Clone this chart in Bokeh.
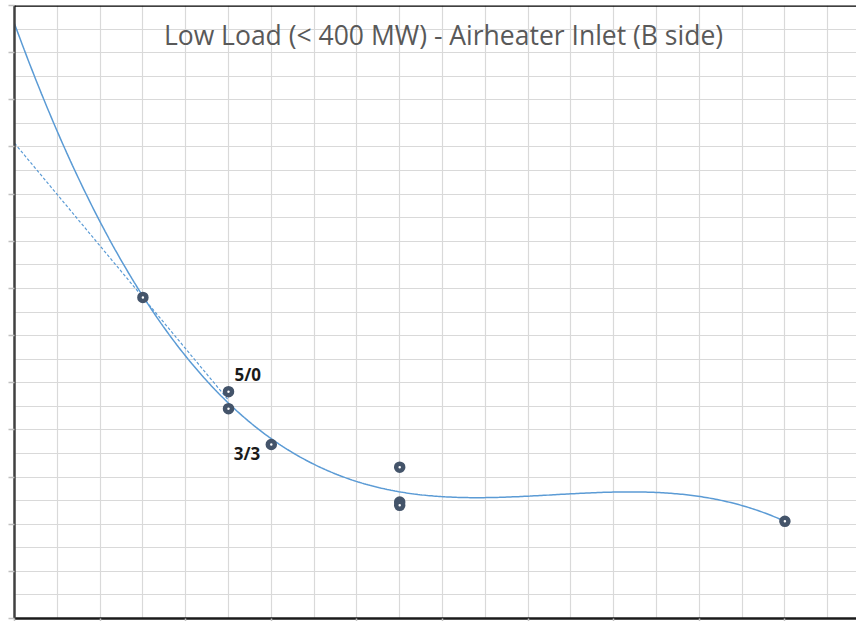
import numpy as np
from bokeh.plotting import figure
from bokeh.models import Range1d, FixedTicker, Label, Span, ColumnDataSource
from bokeh.embed import file_html
from bokeh.resources import INLINE

# Measured points (x in load steps, y in reading units)
load = [3.0, 5.0, 5.0, 6.0, 9.0, 9.0, 9.0, 18.0]
reading = [6.81, 4.81, 4.45, 3.69, 3.21, 2.47, 2.40, 2.06]

# Points used for the straight-line trend
linear_load = [3.0, 5.0, 5.0]
linear_reading = [6.81, 4.81, 4.45]

# Annotated points: (label, index into load/reading)
point_labels = [("5/0", 1), ("3/3", 3)]

x_ticks_major = list(range(0, 20, 2))
x_grid = list(range(0, 20))
y_ticks_major = list(range(0, 14))
y_grid = [i * 0.5 for i in range(0, 27)]

title_text = "Low Load (< 400 MW) - Airheater Inlet (B side)"

W, H = 856, 621
p = figure(width=W, height=H, output_backend="svg", toolbar_location=None,
           x_range=Range1d(0, (W - 14) / 42.8), y_range=Range1d(0, 13),
           min_border_left=14, min_border_right=0, min_border_top=5,
           min_border_bottom=3, background_fill_color="white",
           border_fill_color="white", outline_line_color=None)

# axes: tick marks only, tick labels left blank
for ax, ticks in ((p.xaxis[0], x_ticks_major), (p.yaxis[0], y_ticks_major)):
    ax.ticker = FixedTicker(ticks=ticks)
    ax.major_label_overrides = {t: "" for t in ticks}
    ax.major_label_text_font_size = "1px"
    ax.major_label_standoff = 0
    ax.minor_tick_line_color = None
    ax.major_tick_in = 0
    ax.major_tick_line_color = "#c0c0c0"
    ax.major_tick_line_width = 1.5
p.xaxis.major_tick_out = 3
p.yaxis.major_tick_out = 6
p.xaxis.axis_line_color = "#1a1a1a"
p.xaxis.axis_line_width = 2.5
p.yaxis.axis_line_color = "#404040"
p.yaxis.axis_line_width = 2.5

p.xgrid.ticker = FixedTicker(ticks=x_grid)
p.ygrid.ticker = FixedTicker(ticks=y_grid)
for g in (p.xgrid[0], p.ygrid[0]):
    g.grid_line_color = "#d9d9d9"
    g.grid_line_width = 1.2

p.add_layout(Span(location=13, dimension="width", line_color="black",
                  line_width=2.5))

# polynomial trend (order 3) over all points, extended back to x = 0
coef = np.polyfit(load, reading, 3)
xs = np.linspace(0, max(load), 400)
p.line(xs, np.polyval(coef, xs), line_color="#5B9BD5", line_width=1.5)

# linear trend over the first group, extended back to x = 0
lcoef = np.polyfit(linear_load, linear_reading, 1)
lx = np.array([0, max(linear_load)])
p.line(lx, np.polyval(lcoef, lx), line_color="#5B9BD5", line_width=1.2,
       line_dash="3 2")

src = ColumnDataSource(dict(x=load, y=reading))
p.scatter("x", "y", source=src, size=7, fill_color="white",
          line_color="#44546A", line_width=4.5)

offsets = {"5/0": (6, 17, "left"), "3/3": (-11, -9, "right")}
for txt, i in point_labels:
    dx, dy, align = offsets[txt]
    p.add_layout(Label(x=load[i], y=reading[i], x_offset=dx, y_offset=dy,
                       text=txt, text_font="Noto Sans",
                       text_font_style="bold", text_font_size="17px",
                       text_color="#1a1a1a", text_align=align,
                       text_baseline="middle"))

# chart title drawn inside the plot area, over the grid
p.add_layout(Label(x=429, y=H - 37, x_units="screen", y_units="screen",
                   text=title_text, text_font="Open Sans",
                   text_font_size="26.5px", text_color="#595959",
                   text_align="center", text_baseline="middle"))

open("out.html", "w").write(file_html(p, INLINE))
